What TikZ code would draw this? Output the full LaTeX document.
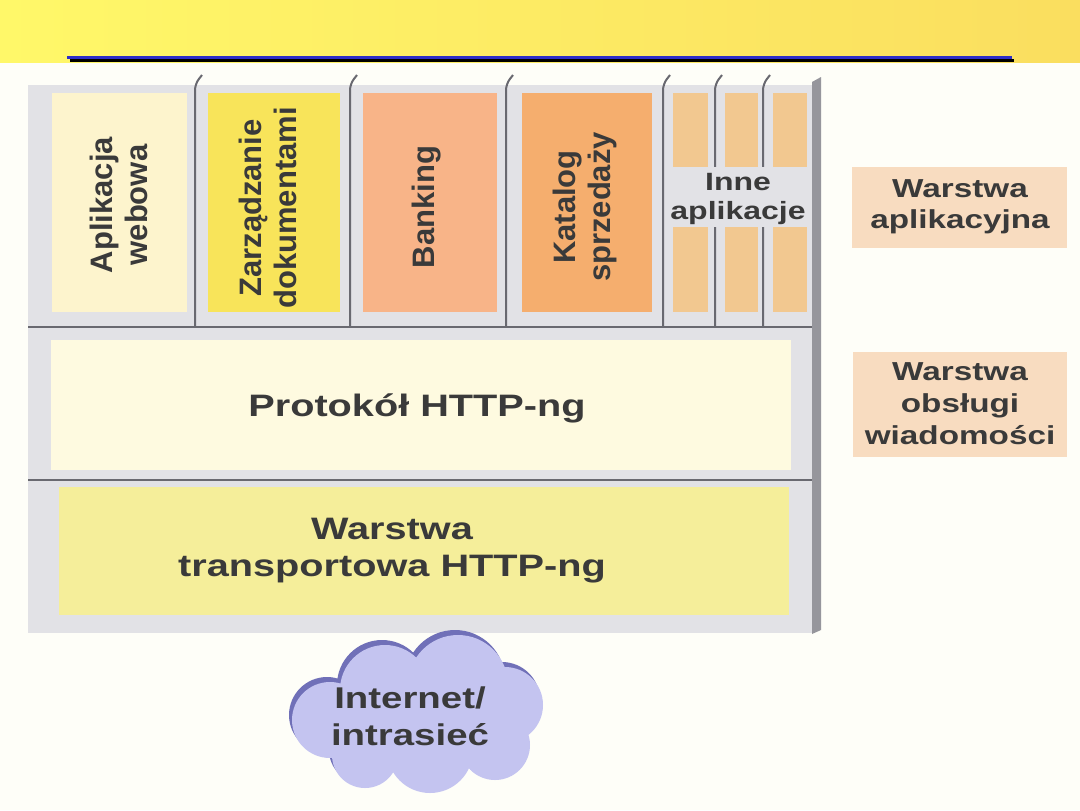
\documentclass[tikz,border=0pt]{standalone}
\usepackage{fontspec}
\setmainfont{Liberation Sans}
\newfontfamily\wf[FakeStretch=1.28]{Liberation Sans}
\definecolor{hdrL}{RGB}{255,248,105}
\definecolor{hdrR}{RGB}{250,222,95}
\definecolor{blueline}{RGB}{45,45,200}
\definecolor{framec}{RGB}{226,226,230}
\definecolor{frameR}{RGB}{150,150,156}
\definecolor{sepc}{RGB}{105,105,112}
\definecolor{cApl}{RGB}{253,244,205}
\definecolor{cZarz}{RGB}{248,228,90}
\definecolor{cBank}{RGB}{248,180,136}
\definecolor{cKat}{RGB}{245,174,110}
\definecolor{cInne}{RGB}{242,200,144}
\definecolor{cProt}{RGB}{254,250,224}
\definecolor{cTrans}{RGB}{245,238,154}
\definecolor{cLbl}{RGB}{248,220,192}
\definecolor{cCloud}{RGB}{196,196,240}
\definecolor{cCloudD}{RGB}{112,112,184}
\definecolor{txtc}{RGB}{58,58,58}
\definecolor{bgc}{RGB}{254,254,248}
\begin{document}
\begin{tikzpicture}[x=0.5pt,y=-0.5pt,
  htxt/.style={text=txtc,font=\wf\bfseries\fontsize{15.5}{18.5}\selectfont,align=center,inner sep=0},
  rtxt/.style={text=txtc,font=\bfseries\fontsize{15.5}{17.5}\selectfont,align=center,inner sep=0,rotate=90},
  ltxt/.style={text=txtc,font=\wf\bfseries\fontsize{13}{15.5}\selectfont,align=center,inner sep=0},
  itxt/.style={text=txtc,font=\wf\bfseries\fontsize{12.5}{14.5}\selectfont,align=center,inner sep=0},
  sepline/.style={draw=sepc,line width=1pt},
  curlsep/.style={draw=sepc,line width=1pt,rounded corners=3pt}]
\useasboundingbox (0,0) rectangle (1080,810);
\fill[bgc] (0,0) rectangle (1080,810);
% header
\shade[left color=hdrL,right color=hdrR] (0,0) rectangle (1080,62.5);
\fill[black] (70,59) rectangle (1014,62);
\fill[blueline] (67,56) rectangle (1012,59);
% frame
\fill[framec] (28,85) rectangle (814,633);
\fill[frameR] (812,82) -- (821,77) -- (821,630) -- (812,634) -- cycle;
% application boxes
\fill[cApl] (52,93) rectangle (187,312);
\fill[cZarz] (208,93) rectangle (340,312);
\fill[cBank] (363,93) rectangle (497,312);
\fill[cKat] (522,93) rectangle (652,312);
\foreach \a/\b in {673/708,725/758,773/807}{
  \fill[cInne] (\a,93) rectangle (\b,312);
}
% lower boxes
\fill[cProt] (51,340) rectangle (791,470);
\fill[cTrans] (59,487) rectangle (789,615);
% horizontal separators
\coordinate (h1l) at (28,327); \coordinate (h1r) at (812,327);
\coordinate (h2l) at (28,480); \coordinate (h2r) at (812,480);
\draw[sepline] (h1l) -- (h1r);
\draw[sepline] (h2l) -- (h2r);
% vertical dividers with curled tops
\foreach \x in {195,350,506,663,715,763}{
  \draw[curlsep] (\x,327) -- (\x,84) -- (\x+7,75);
}
% Inne band
\fill[framec] (666,167) rectangle (811,227);
% texts
\node[rtxt] (apl) at (119,205) {Aplikacja\\webowa};
\node[rtxt] (zarz) at (268,208) {Zarządzanie\\dokumentami};
\node[rtxt] (bank) at (427,207) {Banking};
\node[rtxt] (kat) at (585,207) {Katalog\\sprzedaży};
\node[itxt] (inne) at (738,199) {Inne\\aplikacje};
\node[htxt] (prot) at (417,408) {Protokół HTTP-ng};
\node[htxt] (trans) at (392,551) {Warstwa\\transportowa HTTP-ng};
% right labels
\fill[cLbl] (852,167) rectangle (1067,248);
\node[ltxt] (lab1) at (960,207) {Warstwa\\aplikacyjna};
\fill[cLbl] (853,352) rectangle (1067,457);
\node[ltxt,font=\wf\bfseries\fontsize{13}{16}\selectfont] (lab2) at (960,404) {Warstwa\\obsługi\\wiadomości};
% cloud
\begin{scope}[shift={(-3,-5)}]
\fill[cCloudD] (330,720) circle[radius=38] (385,690) circle[radius=45] (458,685) circle[radius=50]
  (505,705) circle[radius=38] (495,745) circle[radius=35] (430,750) circle[radius=43]
  (365,755) circle[radius=33] (420,720) circle[radius=50];
\end{scope}
\fill[cCloud] (330,720) circle[radius=38] (385,690) circle[radius=45] (458,685) circle[radius=50]
  (505,705) circle[radius=38] (495,745) circle[radius=35] (430,750) circle[radius=43]
  (365,755) circle[radius=33] (420,720) circle[radius=50];
\node[htxt,font=\wf\bfseries\fontsize{15}{18.5}\selectfont] (cloud) at (410,716) {Internet/\\intrasieć};
\end{tikzpicture}
\end{document}
